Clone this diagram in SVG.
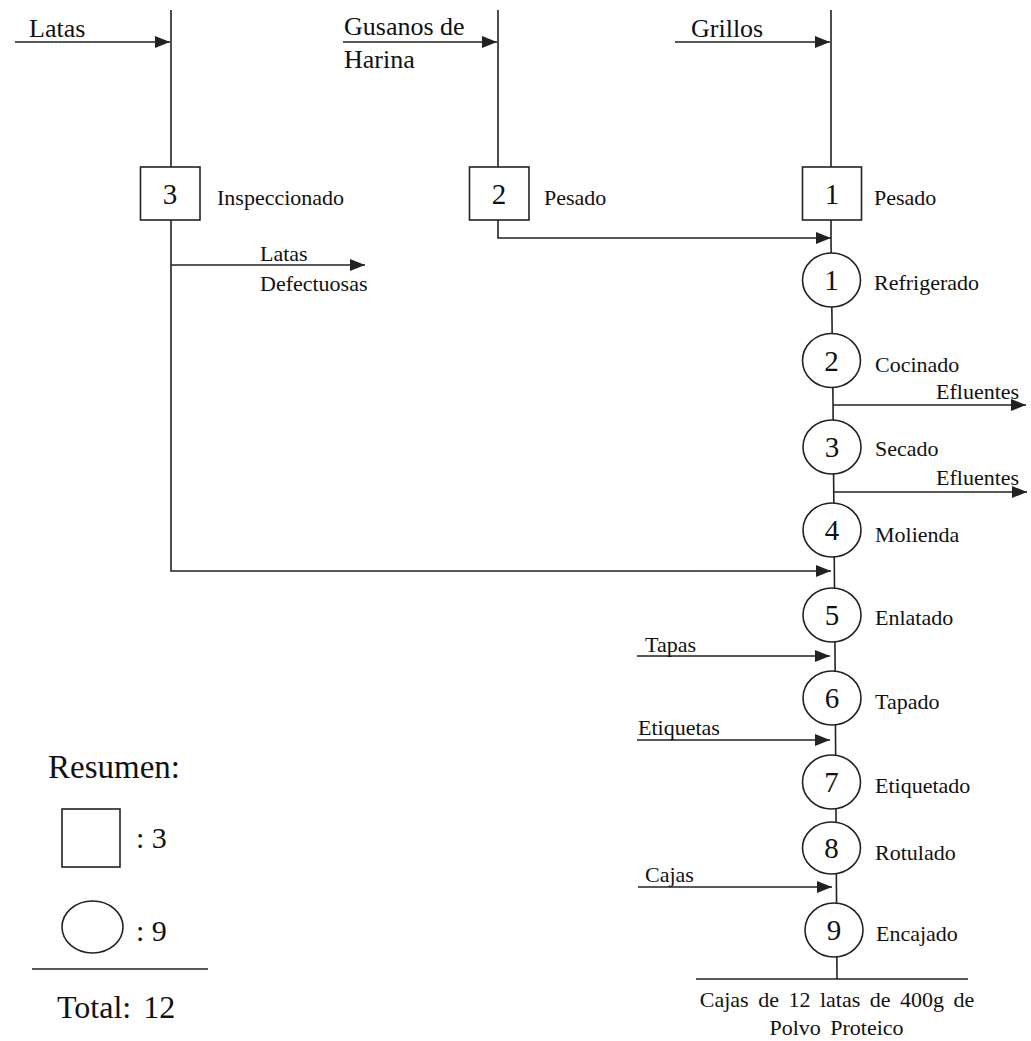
<svg xmlns="http://www.w3.org/2000/svg" width="1031" height="1041" viewBox="0 0 1031 1041">
<style>
text{font-family:"Liberation Serif","Times New Roman",serif;fill:#111}
.lbl{font-size:22px}
.top{font-size:26px}
.num{font-size:29px;text-anchor:middle}
.ln{stroke:#222;stroke-width:1.6;fill:none}
.arr{stroke:#222;stroke-width:1.6;fill:none;marker-end:url(#ah)}
.shp{stroke:#222;stroke-width:1.6;fill:#fff}
</style>
<defs>
<marker id="ah" markerUnits="userSpaceOnUse" markerWidth="16" markerHeight="12" viewBox="0 0 16 12" refX="15" refY="6" orient="auto">
<path d="M0,0 L15,6 L0,12 Z" fill="#222"/>
</marker>
</defs>
<rect width="1031" height="1041" fill="#fff"/>
<g id="connectors">
<path class="ln" d="M171,10 V571 H700"/>
<path class="arr" d="M700,571 H831"/>
<path class="ln" d="M498,10 V238 H700"/>
<path class="arr" d="M700,238 H831"/>
<path class="ln" d="M831,10 L831,240 L833,400 L835,650 L837,979"/>
<path class="arr" d="M15,42 H170"/>
<path class="arr" d="M343,42 H497"/>
<path class="arr" d="M675,42 H830"/>
<path class="arr" d="M171,265 H365"/>
<path class="arr" d="M833,405 H1026"/>
<path class="arr" d="M833,492 H1027"/>
<path class="arr" d="M637,656 H830"/>
<path class="arr" d="M637,740 H830"/>
<path class="arr" d="M638,887 H832"/>
<path class="ln" d="M696,979 H968"/>
</g>
<g id="input-labels">
<text class="top" x="29" y="37">Latas</text>
<text class="top" x="344" y="35">Gusanos de</text>
<text class="top" x="344" y="68">Harina</text>
<text class="top" x="691" y="37">Grillos</text>
<text class="lbl" x="260" y="261">Latas</text>
<text class="lbl" x="260" y="291">Defectuosas</text>
<text class="lbl" x="936" y="399">Efluentes</text>
<text class="lbl" x="936" y="485">Efluentes</text>
<text class="lbl" x="645" y="652">Tapas</text>
<text class="lbl" x="638" y="735">Etiquetas</text>
<text class="lbl" x="645" y="882">Cajas</text>
</g>
<g id="insp3"><rect class="shp" x="140.5" y="167" width="59.5" height="53"/><text class="num" x="170" y="204">3</text><text class="lbl" x="217" y="205">Inspeccionado</text></g>
<g id="insp2"><rect class="shp" x="469.5" y="167" width="59.5" height="53"/><text class="num" x="499" y="204">2</text><text class="lbl" x="544" y="205">Pesado</text></g>
<g id="insp1"><rect class="shp" x="802.5" y="167" width="59" height="53"/><text class="num" x="832" y="204">1</text><text class="lbl" x="874" y="205">Pesado</text></g>
<g id="op1"><ellipse class="shp" cx="831.5" cy="280" rx="29" ry="27"/><text class="num" x="831.5" y="290">1</text><text class="lbl" x="874" y="290">Refrigerado</text></g>
<g id="op2"><ellipse class="shp" cx="831.5" cy="360.5" rx="29" ry="27"/><text class="num" x="831.5" y="371">2</text><text class="lbl" x="875" y="372">Cocinado</text></g>
<g id="op3"><ellipse class="shp" cx="832" cy="447" rx="29" ry="27"/><text class="num" x="832" y="457">3</text><text class="lbl" x="875" y="456">Secado</text></g>
<g id="op4"><ellipse class="shp" cx="832" cy="530" rx="29" ry="27"/><text class="num" x="832" y="540">4</text><text class="lbl" x="875" y="542">Molienda</text></g>
<g id="op5"><ellipse class="shp" cx="832" cy="615" rx="29" ry="27"/><text class="num" x="832" y="625">5</text><text class="lbl" x="875" y="625">Enlatado</text></g>
<g id="op6"><ellipse class="shp" cx="832" cy="698" rx="29" ry="27"/><text class="num" x="832" y="708">6</text><text class="lbl" x="875" y="709">Tapado</text></g>
<g id="op7"><ellipse class="shp" cx="831.5" cy="782" rx="29" ry="27"/><text class="num" x="831.5" y="792">7</text><text class="lbl" x="875" y="793">Etiquetado</text></g>
<g id="op8"><ellipse class="shp" cx="831.5" cy="848" rx="29" ry="26"/><text class="num" x="831.5" y="858">8</text><text class="lbl" x="875" y="860">Rotulado</text></g>
<g id="op9"><ellipse class="shp" cx="834" cy="930" rx="29" ry="27"/><text class="num" x="834" y="940">9</text><text class="lbl" x="876" y="941">Encajado</text></g>
<g id="output"><text class="lbl" x="837" y="1007" text-anchor="middle" word-spacing="4">Cajas de 12 latas de 400g de</text><text class="lbl" x="836.5" y="1035" text-anchor="middle" word-spacing="4">Polvo Proteico</text></g>
<g id="summary">
<text x="48" y="778" style="font-size:33px">Resumen:</text>
<rect class="shp" x="62" y="809" width="58" height="58"/>
<text x="136" y="848" style="font-size:30px">: 3</text>
<ellipse class="shp" cx="92.5" cy="927" rx="30.5" ry="26"/>
<text x="136" y="941" style="font-size:30px">: 9</text>
<path class="ln" d="M32,969 H208"/>
<text x="57" y="1018" style="font-size:32px" word-spacing="4">Total: 12</text>
</g>
</svg>
